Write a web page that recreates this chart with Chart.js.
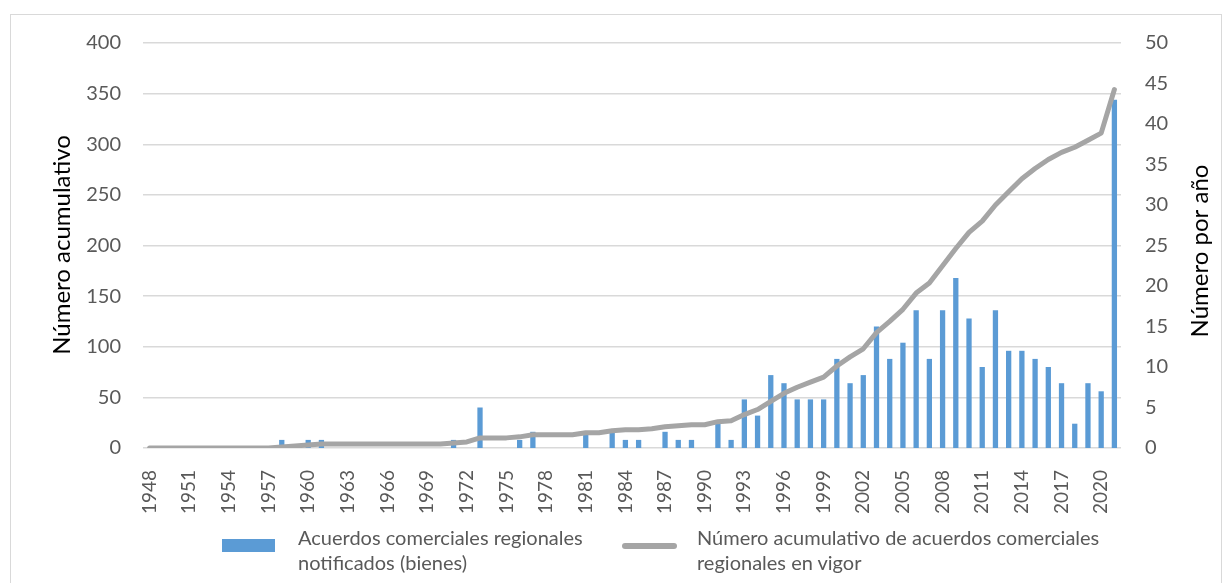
<!DOCTYPE html>
<html>
<head>
<meta charset="utf-8">
<script src="https://cdn.jsdelivr.net/npm/chart.js@4.4.0/dist/chart.umd.min.js"></script>
<style>
  body { margin: 0; background: #fff; }
  #wrap { position: relative; width: 1229px; height: 583px; overflow: hidden; font-family: Lato, sans-serif; }
  #frame { position: absolute; left: 10px; top: 14px; width: 1210px; height: 620px; border: 1px solid #d9d9d9; }
  #chart { position: absolute; left: 0; top: 0; }
  .lg-text { position: absolute; color: #595959; font-size: 20px; line-height: 25px; white-space: nowrap; }
  .lg-box { position: absolute; }
</style>
</head>
<body>
<div id="wrap">
  <div id="frame"></div>
  <canvas id="chart" width="1229" height="583"></canvas>
  <div class="lg-box" style="left:222px;top:539px;width:53px;height:13px;background:#5b9bd5;"></div>
  <div class="lg-text" style="left:298px;top:525px;">Acuerdos comerciales regionales<br>notificados (bienes)</div>
  <div class="lg-box" style="left:622px;top:543px;width:55px;height:6px;background:#a5a5a5;border-radius:3px;"></div>
  <div class="lg-text" style="left:697px;top:525px;">Número acumulativo de acuerdos comerciales<br>regionales en vigor</div>
</div>
<script>
/* ===============================
   DATA
================================ */

const years = [];
for (let y = 1948; y <= 2021; y++) years.push(String(y));

// notified RTAs per year (right axis)
const notifiedPerYear = [
  0, 0, 0, 0, 0, 0, 0, 0, 0, 0,   // 1948-1957
  1, 0, 1, 1, 0, 0, 0, 0, 0, 0,   // 1958-1967
  0, 0, 0, 1, 0, 5, 0, 0, 1, 2,   // 1968-1977
  0, 0, 0, 2, 0, 2, 1, 1, 0, 2,   // 1978-1987
  1, 1, 0, 3, 1, 6, 4, 9, 8, 6,   // 1988-1997
  6, 6, 11, 8, 9, 15, 11, 13, 17, 11, // 1998-2007
  17, 21, 16, 10, 17, 12, 12, 11, 10, 8, // 2008-2017
  3, 8, 7, 43                     // 2018-2021
];

// cumulative RTAs in force (left axis)
const cumulativeInForce = [
  0, 0, 0, 0, 0, 0, 0, 0, 0, 0,   // 1948-1957
  1, 2, 3, 4, 4, 4, 4, 4, 4, 4,   // 1958-1967
  4, 4, 4, 5, 6, 10, 10, 10, 11, 13, // 1968-1977
  13, 13, 13, 15, 15, 17, 18, 18, 19, 21, // 1978-1987
  22, 23, 23, 26, 27, 33, 38, 46, 54, 60, // 1988-1997
  65, 70, 81, 90, 98, 114, 125, 137, 153, 163, // 1998-2007
  180, 197, 213, 224, 240, 253, 266, 276, 285, 292, // 2008-2017
  297, 304, 311, 354              // 2018-2021
];

const leftTitle = "Número acumulativo";
const rightTitle = "Número por año";

/* ===============================
   AXIS TITLES (both read upward)
================================ */

const axisTitles = {
  id: "axisTitles",
  afterDraw(chart) {
    const ctx = chart.ctx;
    ctx.save();
    ctx.fillStyle = "#000";
    ctx.font = "24px Lato";
    ctx.textAlign = "center";
    ctx.textBaseline = "middle";

    ctx.save();
    ctx.translate(62, 245);
    ctx.rotate(-Math.PI / 2);
    ctx.fillText(leftTitle, 0, 0);
    ctx.restore();

    ctx.save();
    ctx.translate(1200, 251);
    ctx.rotate(-Math.PI / 2);
    ctx.fillText(rightTitle, 0, 0);
    ctx.restore();

    ctx.restore();
  }
};

/* ===============================
   CHART
================================ */

new Chart(document.getElementById("chart"), {
  data: {
    labels: years,
    datasets: [
      {
        type: "line",
        label: "Número acumulativo de acuerdos comerciales regionales en vigor",
        data: cumulativeInForce,
        yAxisID: "y",
        borderColor: "#a5a5a5",
        borderWidth: 5,
        pointRadius: 0,
        tension: 0,
        borderJoinStyle: "round",
        borderCapStyle: "round",
        order: 0
      },
      {
        type: "bar",
        label: "Acuerdos comerciales regionales notificados (bienes)",
        data: notifiedPerYear,
        yAxisID: "y1",
        backgroundColor: "#5b9bd5",
        categoryPercentage: 1,
        barPercentage: 0.4,
        order: 1
      }
    ]
  },
  options: {
    responsive: false,
    animation: false,
    layout: { padding: { top: 43, left: 0, right: 0, bottom: 0 } },
    plugins: {
      legend: { display: false },
      tooltip: { enabled: false }
    },
    scales: {
      x: {
        grid: { display: false },
        border: { display: false },
        afterFit(scale) { scale.height = 135; },
        ticks: {
          autoSkip: false,
          minRotation: 90,
          maxRotation: 90,
          padding: 14,
          color: "#595959",
          font: { family: "Lato", size: 19 },
          callback(value, index) {
            return index % 3 === 0 ? years[index] : "";
          }
        }
      },
      y: {
        position: "left",
        min: 0,
        max: 400,
        afterFit(scale) { scale.width = 143; },
        grid: { color: "#d9d9d9", lineWidth: 1.5, drawTicks: false },
        border: { display: false },
        ticks: {
          stepSize: 50,
          padding: 22,
          color: "#595959",
          font: { family: "Lato", size: 20 }
        }
      },
      y1: {
        position: "right",
        min: 0,
        max: 50,
        afterFit(scale) { scale.width = 108; },
        grid: { display: false, drawTicks: false },
        border: { display: false },
        ticks: {
          stepSize: 5,
          padding: 24,
          color: "#595959",
          font: { family: "Lato", size: 20 }
        }
      }
    }
  },
  plugins: [axisTitles]
});
</script>
</body>
</html>
